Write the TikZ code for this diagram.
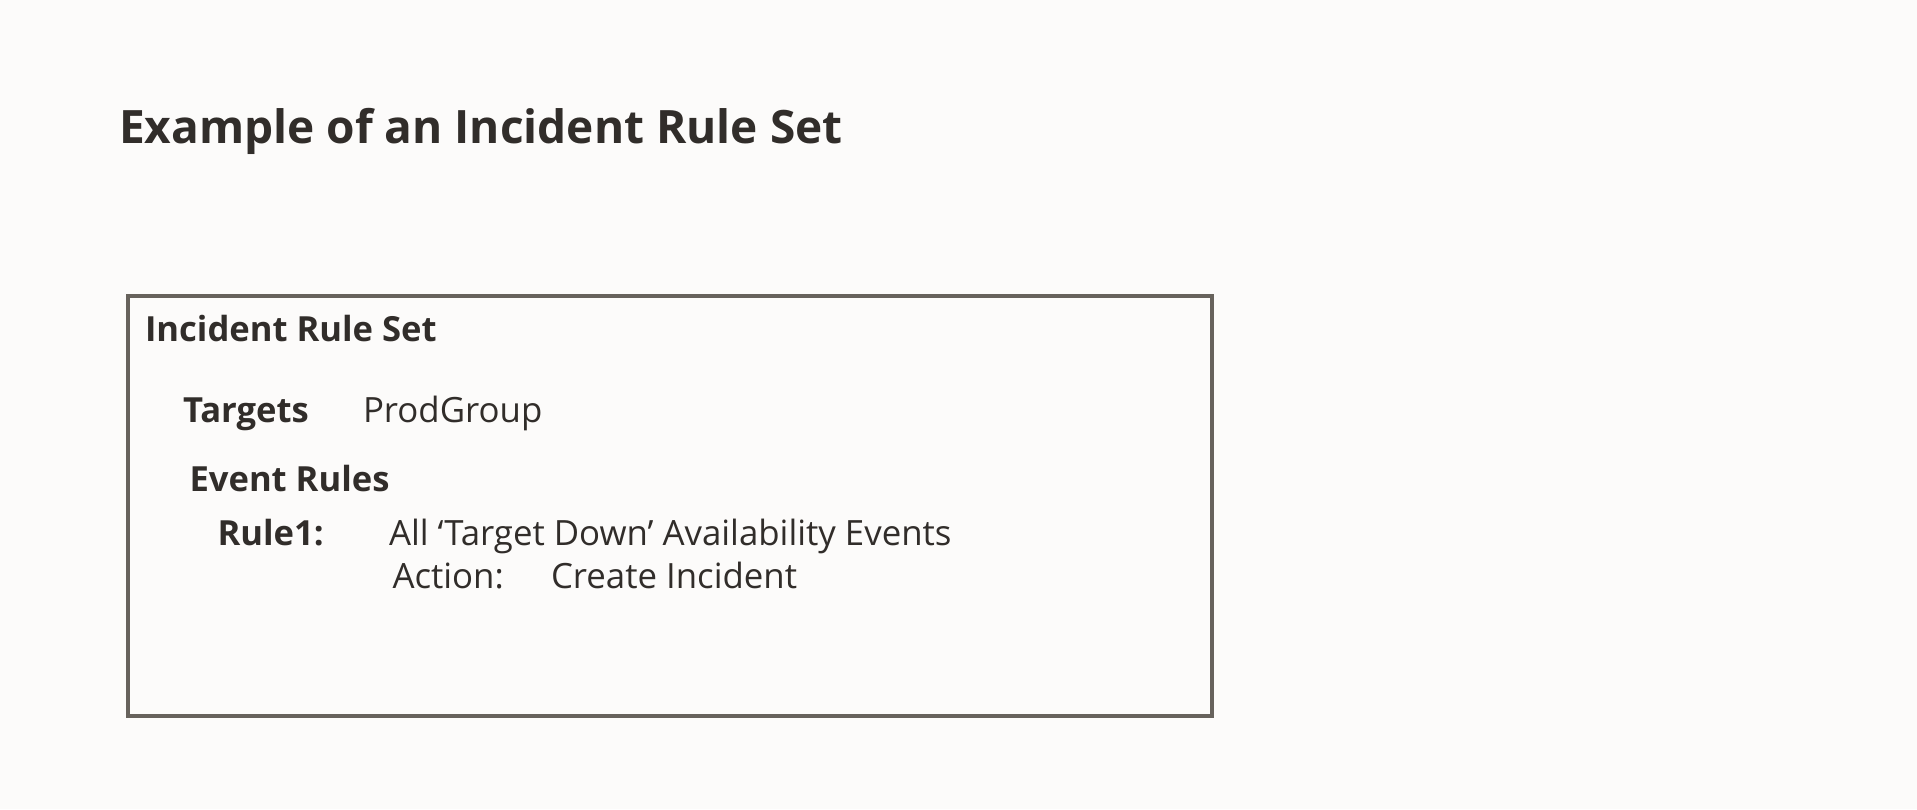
\documentclass[tikz,border=0pt]{standalone}
\usepackage{fontspec}
\setmainfont{Open Sans}
\definecolor{pagebg}{HTML}{FCFBFA}
\definecolor{inkdark}{HTML}{312D2A}
\definecolor{framegray}{HTML}{67625C}
\begin{document}
\begin{tikzpicture}[
  x=0.5pt, y=-0.5pt,
  every node/.style={inner sep=0pt, outer sep=0pt, anchor=base west, text=inkdark},
  %  Styles des textes et du cadre
  heading_style/.style={font=\fontsize{23}{28}\selectfont\bfseries},
  label_style/.style={font=\fontsize{17.3}{21}\selectfont\bfseries},
  value_style/.style={font=\fontsize{17.4}{21}\selectfont},
  frame_style/.style={draw=framegray, line width=2pt, minimum width=542pt, minimum height=210pt, anchor=center}
]
\fill[pagebg] (0,0) rectangle (1917,809);
\useasboundingbox (0,0) rectangle (1917,809);

%  Titre
\node[heading_style] (title) at (119,143) {Example of an Incident Rule Set};

%  Cadre du jeu de règles
\node[frame_style] (frame) at (670,506) {};
\node[label_style] (setname) at (145,341) {Incident Rule Set};

%  Cibles
\node[label_style] (targets) at (183,422) {Targets};
\node[value_style] (prodgroup) at (363,422) {ProdGroup};

%  Règles d'événement
\node[label_style] (eventrules) at (189.5,491.5) {Event Rules};
\node[label_style] (rule1) at (217.6,545) {Rule1:};
\node[value_style] (rulecond) at (389,545) {All ‘Target Down’ Availability Events};
\node[value_style] (action) at (392.5,588) {Action:};
\node[value_style] (actionval) at (551,588) {Create Incident};
\end{tikzpicture}
\end{document}
